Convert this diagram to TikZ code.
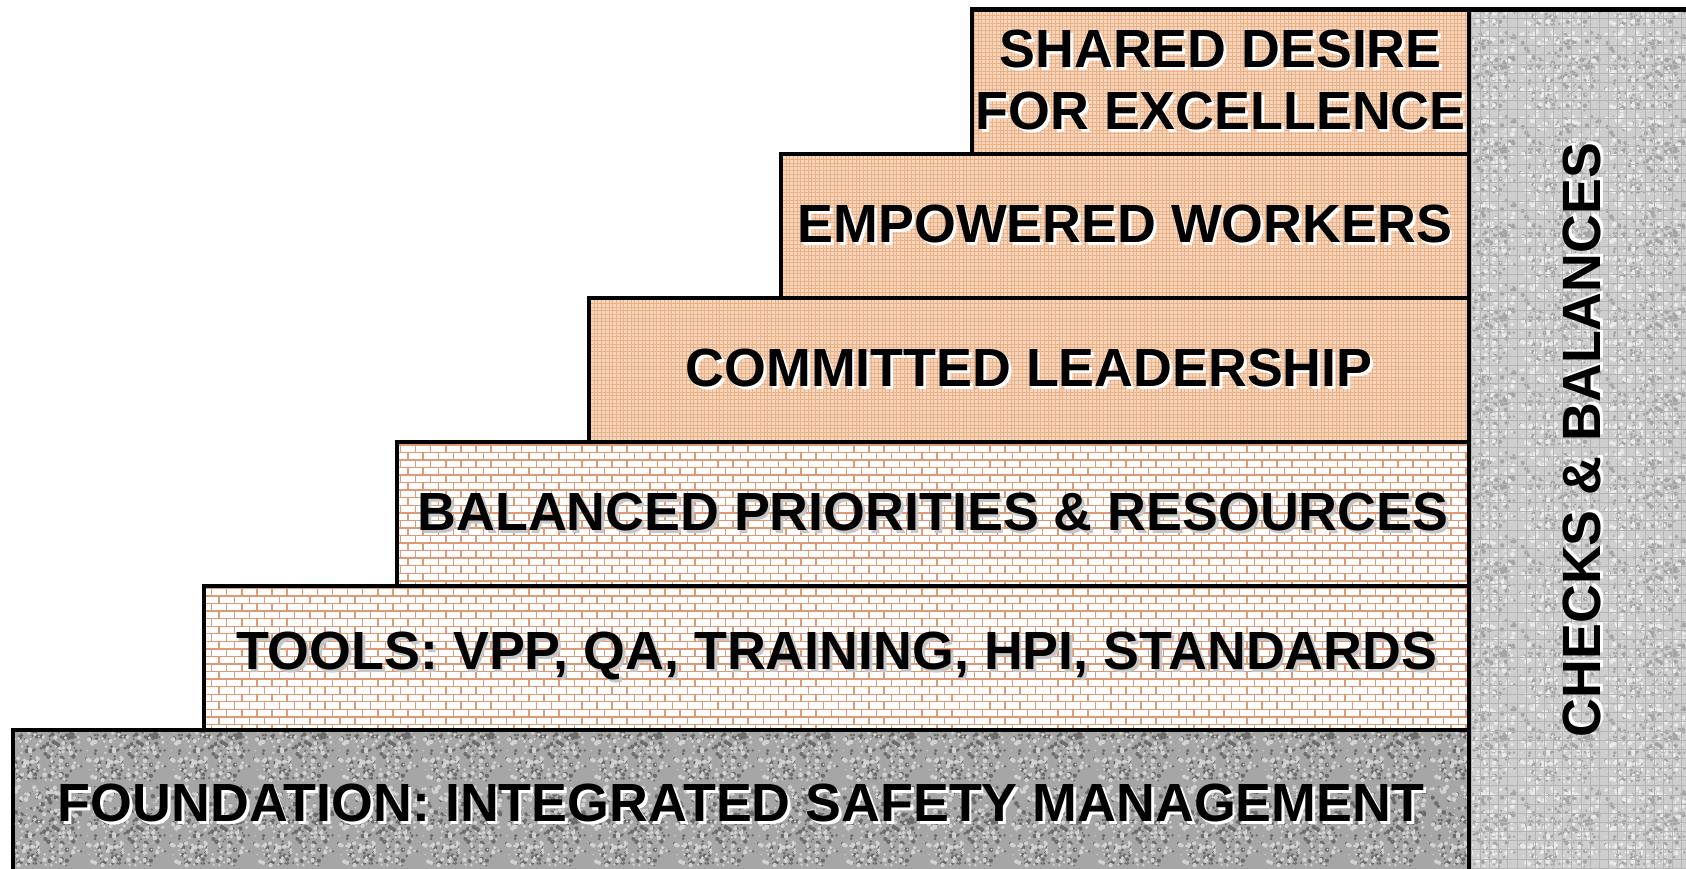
\documentclass[tikz,border=0pt]{standalone}
\usepackage{fontspec}
\setmainfont{Liberation Sans}
\usetikzlibrary{patterns}
\usetikzlibrary{positioning}

\definecolor{peach}{RGB}{249,214,186}
\definecolor{peachline}{RGB}{230,178,140}
\definecolor{brickline}{RGB}{222,154,118}
\definecolor{granite}{RGB}{166,166,166}
\definecolor{granitedark}{RGB}{108,108,108}
\definecolor{granitelight}{RGB}{210,210,210}
\definecolor{panelgray}{RGB}{206,206,206}
\definecolor{paneldark}{RGB}{164,164,164}
\definecolor{panellight}{RGB}{234,234,234}
\definecolor{panelline}{RGB}{180,180,180}

\pgfdeclarepatternformonly{finegrid}{\pgfpoint{-0.2pt}{-0.2pt}}{\pgfpoint{1.2pt}{1.2pt}}{\pgfpoint{1.05pt}{1.05pt}}{%
  \pgfsetlinewidth{0.22pt}%
  \pgfpathmoveto{\pgfpoint{0pt}{0pt}}\pgfpathlineto{\pgfpoint{1.05pt}{0pt}}%
  \pgfpathmoveto{\pgfpoint{0pt}{0pt}}\pgfpathlineto{\pgfpoint{0pt}{1.05pt}}%
  \pgfusepath{stroke}}
\pgfdeclarepatternformonly{minibricks}{\pgfpoint{-0.4pt}{-0.4pt}}{\pgfpoint{4.7pt}{4.7pt}}{\pgfpoint{4.3pt}{4.3pt}}{%
  \pgfsetlinewidth{0.4pt}%
  \pgfpathmoveto{\pgfpoint{0pt}{0pt}}\pgfpathlineto{\pgfpoint{4.3pt}{0pt}}%
  \pgfpathmoveto{\pgfpoint{0pt}{2.15pt}}\pgfpathlineto{\pgfpoint{4.3pt}{2.15pt}}%
  \pgfpathmoveto{\pgfpoint{0pt}{0pt}}\pgfpathlineto{\pgfpoint{0pt}{2.15pt}}%
  \pgfpathmoveto{\pgfpoint{2.15pt}{2.15pt}}\pgfpathlineto{\pgfpoint{2.15pt}{4.3pt}}%
  \pgfusepath{stroke}}
\pgfdeclarepatternformonly{panelgrid}{\pgfpoint{-0.2pt}{-0.2pt}}{\pgfpoint{2.8pt}{2.8pt}}{\pgfpoint{2.6pt}{2.6pt}}{%
  \pgfsetlinewidth{0.2pt}%
  \pgfpathmoveto{\pgfpoint{0pt}{0pt}}\pgfpathlineto{\pgfpoint{2.6pt}{0pt}}%
  \pgfpathmoveto{\pgfpoint{0pt}{0pt}}\pgfpathlineto{\pgfpoint{0pt}{2.6pt}}%
  \pgfusepath{stroke}}

% random specks for the stone blocks, collected once into a path macro
\newcommand{\makegrain}[2]{%
  \gdef#1{}%
  \foreach \i in {1,...,#2} {%
    \pgfmathsetmacro{\gx}{0.7+22.6*rnd}\pgfmathsetmacro{\gy}{0.7+22.6*rnd}\pgfmathsetmacro{\gr}{0.22+0.45*rnd}%
    \xdef#1{\unexpanded\expandafter{#1}\noexpand\pgfpathcircle{\noexpand\pgfpoint{\gx pt}{\gy pt}}{\gr pt}}%
  }}
\pgfmathsetseed{4217}
\makegrain{\darkspecks}{175}
\makegrain{\lightspecks}{175}
\pgfdeclarepatternformonly{darkgrain}{\pgfpointorigin}{\pgfpoint{24pt}{24pt}}{\pgfpoint{24pt}{24pt}}{\darkspecks\pgfusepath{fill}}
\pgfdeclarepatternformonly{lightgrain}{\pgfpointorigin}{\pgfpoint{24pt}{24pt}}{\pgfpoint{24pt}{24pt}}{\lightspecks\pgfusepath{fill}}

% text with a small drop shadow
\newcommand{\shadowed}[2][white]{\makebox[0pt][l]{\hspace{0.8pt}\raisebox{-0.8pt}{\color{#1}#2}}#2}

\tikzset{
    stepbox/.style = {rectangle, draw=black, line width=1.2pt, anchor=north west, inner sep=0pt, align=center, font=\fontsize{15.3}{17.6}\selectfont\bfseries},
    peachbox/.style = {stepbox, preaction={fill=peach}, pattern=finegrid, pattern color=peachline},
    brickbox/.style = {stepbox, preaction={fill=white}, pattern=minibricks, pattern color=brickline},
    granitebox/.style = {stepbox, preaction={fill=granite}, preaction={pattern=darkgrain, pattern color=granitedark}, pattern=lightgrain, pattern color=granitelight},
    panelbox/.style = {stepbox, preaction={fill=panelgray}, preaction={pattern=darkgrain, pattern color=paneldark}, preaction={pattern=lightgrain, pattern color=panellight}, pattern=panelgrid, pattern color=panelline},
}

\begin{document}
\begin{tikzpicture}
\useasboundingbox (0,0) rectangle (16.86,8.68);
%
\node[panelbox, minimum width=2.4cm, minimum height=8.65cm] (checks) at (14.67,8.605) {};
\node[rotate=90, font=\fontsize{15.3}{17.6}\selectfont\bfseries] (checkstxt) at (15.835,4.28) {\shadowed{CHECKS \& BALANCES}};
%
\node[peachbox, minimum width=4.97cm, minimum height=1.44cm] (desire) at (9.70,8.605)
    {\shadowed{SHARED DESIRE}\\\shadowed{FOR EXCELLENCE}};
\node[peachbox, minimum width=6.885cm, minimum height=1.44cm] (workers) at (7.785,7.165)
    {\shadowed{EMPOWERED WORKERS}};
\node[peachbox, minimum width=8.80cm, minimum height=1.44cm] (leaders) at (5.87,5.725)
    {\shadowed{COMMITTED LEADERSHIP}};
\node[brickbox, minimum width=10.724cm, minimum height=1.44cm] (balance) at (3.946,4.285)
    {\shadowed[gray!45]{BALANCED PRIORITIES \& RESOURCES}};
\node[brickbox, minimum width=12.65cm, minimum height=1.44cm] (tools) at (2.02,2.845)
    {\shadowed[gray!45]{TOOLS: VPP, QA, TRAINING, HPI, STANDARDS}};
\node[granitebox, minimum width=14.5625cm, minimum height=1.50cm] (found) at (0.1075,1.405)
    {\shadowed{FOUNDATION: INTEGRATED SAFETY MANAGEMENT}};

\end{tikzpicture}
\end{document}
